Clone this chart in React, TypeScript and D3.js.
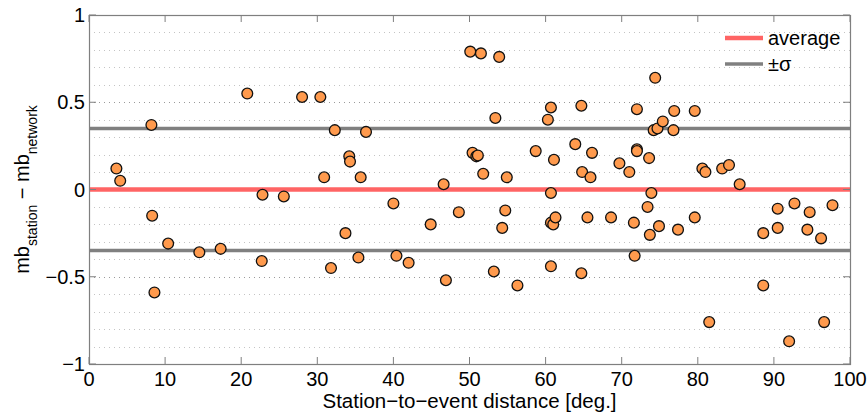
import React from "react";
import * as d3 from "d3";

const distances: number[] = [
  3.6, 4.1, 8.2, 8.3, 8.6, 10.4, 14.5, 17.3, 20.8, 22.7, 22.8, 25.6, 28.0, 30.4, 30.9, 31.8,
  32.3, 33.7, 34.2, 34.3, 35.4, 35.7, 36.4, 40.0, 40.4, 42.0, 44.9, 46.6, 46.9, 48.6, 50.1,
  50.4, 50.9, 51.1, 51.5, 51.8, 53.2, 53.4, 53.9, 54.3, 54.7, 54.9, 56.3, 58.7, 60.3, 60.7,
  60.7, 60.7, 60.7, 61.0, 61.1, 61.3, 63.9, 64.7, 64.8, 64.7, 65.5, 65.9, 66.1, 68.6, 69.7,
  71.0, 71.6, 71.7, 72.0, 72.0, 72.0, 73.4, 73.6, 73.7, 73.9, 74.2, 74.4, 74.7, 74.9, 75.4,
  76.8, 76.9, 77.4, 79.6, 79.6, 80.6, 81.0, 81.5, 83.2, 84.1, 85.5, 88.6, 88.6, 90.5, 90.5,
  92.0, 92.7, 94.4, 94.7, 96.2, 96.6, 97.7,
];
const residuals: number[] = [
  0.12, 0.05, 0.37, -0.15, -0.59, -0.31, -0.36, -0.34, 0.55, -0.41, -0.03, -0.04, 0.53, 0.53, 0.07, -0.45,
  0.34, -0.25, 0.19, 0.16, -0.39, 0.07, 0.33, -0.08, -0.38, -0.42, -0.2, 0.03, -0.52, -0.13, 0.79,
  0.21, 0.19, 0.195, 0.78, 0.09, -0.47, 0.41, 0.76, -0.22, -0.12, 0.07, -0.55, 0.22, 0.4, 0.47,
  -0.02, -0.19, -0.44, -0.2, 0.17, -0.16, 0.26, 0.48, 0.1, -0.48, -0.16, 0.07, 0.21, -0.16, 0.15,
  0.1, -0.19, -0.38, 0.46, 0.23, 0.22, -0.1, 0.18, -0.26, -0.02, 0.34, 0.64, 0.35, -0.21, 0.39,
  0.34, 0.45, -0.23, 0.45, -0.16, 0.12, 0.1, -0.76, 0.12, 0.14, 0.03, -0.25, -0.55, -0.11, -0.22,
  -0.87, -0.08, -0.23, -0.13, -0.28, -0.76, -0.09,
];
const averageValue = 0;
const sigmaValue = 0.35;
const xTicks: number[] = [0, 10, 20, 30, 40, 50, 60, 70, 80, 90, 100];
const yTicks: number[] = [-1, -0.5, 0, 0.5, 1];
const yTickLabels: string[] = ["\u22121", "\u22120.5", "0", "0.5", "1"];
const gridValues: number[] = [-0.9, -0.8, -0.7, -0.6, -0.5, -0.4, -0.3, -0.2, -0.1, 0.1, 0.2, 0.3, 0.4, 0.5, 0.6, 0.7, 0.8, 0.9];
const legendLabels: string[] = ["average", "\u00b1\u03c3"];

const W = 868;
const H = 412;
const M = { left: 89, right: 18, top: 15, bottom: 48 };
const FONT = "'Liberation Sans', Arial, Helvetica, sans-serif";

export default function App() {
  const x = d3.scaleLinear().domain([0, 100]).range([M.left, W - M.right]);
  const y = d3.scaleLinear().domain([-1, 1]).range([H - M.bottom, M.top]);
  const x0 = M.left, x1 = W - M.right, y0 = M.top, y1 = H - M.bottom;
  const tickLen = 7;
  const axisColor = "#7f7f7f";
  const points = distances.map((d, i) => ({ d, r: residuals[i] }));
  const legendX = 725;
  const legendY = [38, 64];

  return (
    <div style={{ position: "absolute", left: 0, top: 0 }}>
      <svg width={W} height={H} style={{ display: "block", fontFamily: FONT }}>
        <rect x={0} y={0} width={W} height={H} fill="#fff" />
        {gridValues.map((g) => (
          <line
            key={g}
            x1={x0}
            x2={x1}
            y1={Math.round(y(g)) + 0.5}
            y2={Math.round(y(g)) + 0.5}
            stroke={Math.abs(Math.abs(g) - 0.5) < 1e-9 ? "#9a9a9a" : "#c4c4c4"}
            strokeWidth={1}
            strokeDasharray="1,4"
          />
        ))}
        <line x1={x0} x2={x1} y1={y(sigmaValue)} y2={y(sigmaValue)} stroke="#808080" strokeWidth={3.5} />
        <line x1={x0} x2={x1} y1={y(-sigmaValue)} y2={y(-sigmaValue)} stroke="#808080" strokeWidth={3.5} />
        <line x1={x0} x2={x1} y1={y(averageValue)} y2={y(averageValue)} stroke="#ff6464" strokeWidth={4.5} />
        {points.map((p, i) => (
          <circle key={i} cx={x(p.d)} cy={y(p.r)} r={5.4} fill="#ff9a4d" stroke="#111" strokeWidth={1.3} />
        ))}
        <rect x={x0 + 0.5} y={y0 + 0.5} width={x1 - x0} height={y1 - y0} fill="none" stroke={axisColor} strokeWidth={1.2} />
        {xTicks.map((t) => (
          <g key={"xt" + t}>
            <line x1={x(t)} x2={x(t)} y1={y1} y2={y1 - tickLen} stroke={axisColor} />
            <line x1={x(t)} x2={x(t)} y1={y0} y2={y0 + tickLen} stroke={axisColor} />
            <text x={x(t)} y={386} textAnchor="middle" fontSize={20} fill="#000">
              {t}
            </text>
          </g>
        ))}
        {yTicks.map((t, i) => (
          <g key={"yt" + t}>
            <line x1={x0} x2={x0 + tickLen} y1={y(t)} y2={y(t)} stroke={axisColor} />
            <line x1={x1} x2={x1 - tickLen} y1={y(t)} y2={y(t)} stroke={axisColor} />
            <text x={85} y={y(t) + 7} textAnchor="end" fontSize={20} fill="#000">
              {yTickLabels[i]}
            </text>
          </g>
        ))}
        <text x={(x0 + x1) / 2} y={408} textAnchor="middle" fontSize={20.5} fill="#000">
          Station{"\u2212"}to{"\u2212"}event distance [deg.]
        </text>
        <text transform={`translate(28.5,${(y0 + y1) / 2}) rotate(-90)`} textAnchor="middle" fontSize={20} fill="#000">
          mb
          <tspan fontSize={14} dy={8}>station</tspan>
          <tspan dy={-8}> {"\u2212"} mb</tspan>
          <tspan fontSize={14} dy={8}>network</tspan>
        </text>
        <line x1={legendX} x2={legendX + 38} y1={legendY[0]} y2={legendY[0]} stroke="#ff6464" strokeWidth={4.5} />
        <line x1={legendX} x2={legendX + 38} y1={legendY[1]} y2={legendY[1]} stroke="#808080" strokeWidth={3.5} />
        <text x={768} y={legendY[0] + 7} fontSize={20} fill="#000">
          {legendLabels[0]}
        </text>
        <text x={768} y={legendY[1] + 7} fontSize={20} fill="#000">
          {legendLabels[1]}
        </text>
      </svg>
    </div>
  );
}
